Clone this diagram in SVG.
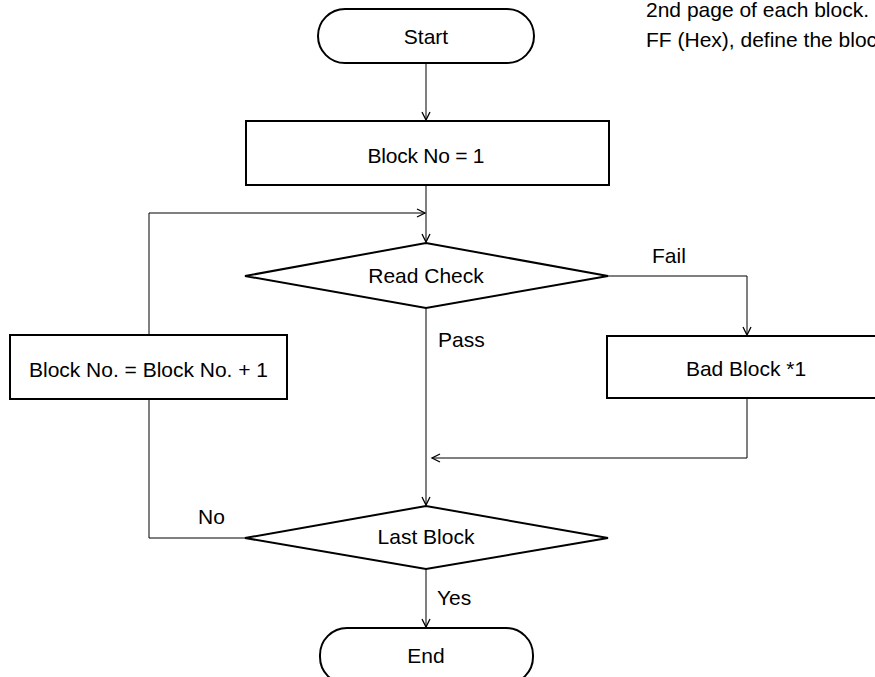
<svg xmlns="http://www.w3.org/2000/svg" width="875" height="677" viewBox="0 0 875 677">
<style>
.shape{fill:#fff;stroke:#000;stroke-width:2}
.conn{fill:none;stroke:#000;stroke-width:1}
text{font-family:"Liberation Sans",Arial,sans-serif;font-size:21px;fill:#000}
.c{text-anchor:middle}
</style>
<defs>
<marker id="arr" markerUnits="userSpaceOnUse" markerWidth="12" markerHeight="12" refX="9" refY="5" orient="auto">
<path d="M1,1 L9,5 L1,9" fill="none" stroke="#000" stroke-width="1.3"/>
</marker>
</defs>
<rect width="875" height="677" fill="#fff"/>
<g id="note">
<text x="646" y="17" textLength="223" lengthAdjust="spacing">2nd page of each block.</text>
<text x="646" y="47">FF (Hex), define the bloc</text>
</g>
<g id="connectors">
<path class="conn" d="M426,63 V120" marker-end="url(#arr)"/>
<path class="conn" d="M426,185 V242" marker-end="url(#arr)"/>
<path class="conn" d="M149,335 V213 H425" marker-end="url(#arr)"/>
<path class="conn" d="M608,276 H747 V335" marker-end="url(#arr)"/>
<path class="conn" d="M426,308 V505" marker-end="url(#arr)"/>
<path class="conn" d="M747,398 V458 H432" marker-end="url(#arr)"/>
<path class="conn" d="M149,399 V538 H245"/>
<path class="conn" d="M426,569 V627" marker-end="url(#arr)"/>
</g>
<g id="start">
<rect class="shape" x="318" y="9" width="216" height="54" rx="27"/>
<text class="c" x="426" y="44">Start</text>
</g>
<g id="init">
<rect class="shape" x="246" y="121" width="363" height="64"/>
<text class="c" x="426" y="163" textLength="117" lengthAdjust="spacing">Block No = 1</text>
</g>
<g id="readcheck">
<polygon class="shape" points="245,276 426,243 608,276 426,308"/>
<text class="c" x="426" y="283">Read Check</text>
</g>
<g id="increment">
<rect class="shape" x="10" y="335" width="277" height="64"/>
<text class="c" x="148.5" y="377" textLength="239" lengthAdjust="spacing">Block No. = Block No. + 1</text>
</g>
<g id="badblock">
<rect class="shape" x="607" y="336" width="280" height="62"/>
<text class="c" x="746" y="376">Bad Block *1</text>
</g>
<g id="lastblock">
<polygon class="shape" points="245,538 426,506 608,538 426,569"/>
<text class="c" x="426" y="544">Last Block</text>
</g>
<g id="end">
<rect class="shape" x="320" y="628" width="213" height="56" rx="27"/>
<text class="c" x="426" y="663">End</text>
</g>
<g id="labels">
<text x="652" y="263">Fail</text>
<text x="438" y="347">Pass</text>
<text x="198" y="524">No</text>
<text x="437" y="605">Yes</text>
</g>
</svg>
